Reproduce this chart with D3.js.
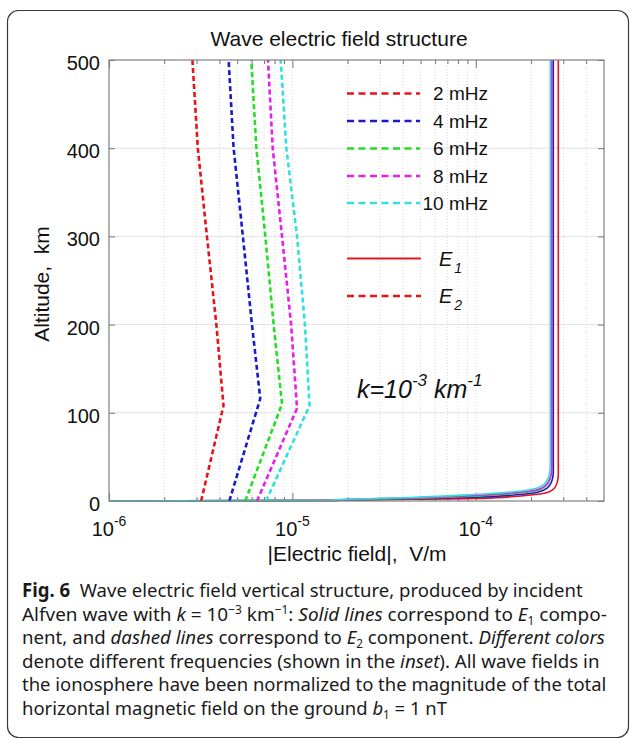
<!DOCTYPE html>
<html><head><meta charset="utf-8">
<script src="https://cdn.jsdelivr.net/npm/d3@7"></script>
<style>
body{margin:0;background:#fff;}
svg text{white-space:pre;}
</style></head>
<body><svg id="c" width="630" height="738"></svg>
<script>
// ---------------- data ----------------
const frequencies = ["2 mHz", "4 mHz", "6 mHz", "8 mHz", "10 mHz"];
const colors = ["#e3141c", "#1a1acb", "#26dd26", "#e420e4", "#30e0e0"];
const yTickValues = [0, 100, 200, 300, 400, 500];
const xTickExponents = [-6, -5, -4];
const componentLabels = ["1", "2"];

// E2 (dashed) : [ |E| (V/m), altitude (km) ]
const e2_2mHz  = [[3.18e-6,0],[4.21e-6,108],[3.85e-6,200],[3.42e-6,300],[3.05e-6,400],[2.85e-6,500]];
const e2_4mHz  = [[4.53e-6,0],[6.68e-6,116],[6.02e-6,200],[5.37e-6,300],[4.78e-6,400],[4.49e-6,500]];
const e2_6mHz  = [[5.53e-6,0],[8.78e-6,110],[7.90e-6,200],[7.12e-6,300],[6.36e-6,400],[5.97e-6,500]];
const e2_8mHz  = [[6.41e-6,0],[1.06e-5,105],[9.84e-6,200],[8.78e-6,300],[7.81e-6,400],[7.36e-6,500]];
const e2_10mHz = [[7.18e-6,0],[1.24e-5,108],[1.17e-5,200],[1.06e-5,300],[9.27e-6,400],[8.63e-6,500]];

// E1 (solid)
const e1_2mHz  = [[1e-6,0],[1.6e-5,0.5],[2.0e-5,1.0],[4.6e-5,1.9],[1.06e-4,3.0],[1.76e-4,5.7],[2.36e-4,8.7],[2.62e-4,12.5],[2.77e-4,20],[2.817e-4,30],[2.817e-4,500]];
const e1_4mHz  = [[1e-6,0],[1.6e-5,0.6],[2.0e-5,1.3],[4.6e-5,2.5],[1.00e-4,4.3],[1.66e-4,7.0],[2.22e-4,10.5],[2.46e-4,15],[2.60e-4,23],[2.645e-4,33],[2.645e-4,500]];
const e1_6mHz  = [[1e-6,0],[1.6e-5,0.7],[2.0e-5,1.6],[4.5e-5,3.0],[9.8e-5,5.3],[1.62e-4,8.5],[2.17e-4,12],[2.40e-4,17],[2.54e-4,25],[2.585e-4,35],[2.585e-4,500]];
const e1_8mHz  = [[1e-6,0],[1.6e-5,0.8],[2.0e-5,1.8],[4.5e-5,3.5],[9.8e-5,6.2],[1.63e-4,9.3],[2.18e-4,13],[2.41e-4,18],[2.55e-4,27],[2.60e-4,37],[2.60e-4,500]];
const e1_10mHz = [[1e-6,0],[1.6e-5,0.9],[2.0e-5,2.0],[4.4e-5,4.0],[9.6e-5,7.3],[1.60e-4,10.5],[2.14e-4,14.5],[2.37e-4,19.5],[2.50e-4,28],[2.547e-4,38],[2.547e-4,500]];

const e1Series = [e1_2mHz, e1_4mHz, e1_6mHz, e1_8mHz, e1_10mHz];
const e2Series = [e2_2mHz, e2_4mHz, e2_6mHz, e2_8mHz, e2_10mHz];

// ---------------- drawing ----------------
const svg = d3.select("#c");
const FONT = "'Liberation Sans', Arial, sans-serif";
const CAPFONT = "'Noto Sans', 'Open Sans', sans-serif";

svg.append("rect").attr("x", 7.5).attr("y", 10.5).attr("width", 621).attr("height", 727)
  .attr("rx", 11).attr("fill", "none").attr("stroke", "#3a3a3a").attr("stroke-width", 1.2);

const L = 109, R = 604, T = 60, B = 501;
const x = d3.scaleLog().domain([1e-6, 5e-4]).range([L, R]);
const y = d3.scaleLinear().domain([0, 500]).range([B, T]);

const minorTicks = [];
xTickExponents.forEach(e => { for (let m = 2; m <= 9; m++) { const v = m * Math.pow(10, e); if (v < 5e-4) minorTicks.push(v); } });
const majorTicks = xTickExponents.map(e => Math.pow(10, e));

// grid
const grid = svg.append("g");
grid.selectAll("line.h").data(yTickValues.filter(v => v > 0 && v < 500)).join("line")
  .attr("x1", L).attr("x2", R).attr("y1", d => y(d)).attr("y2", d => y(d))
  .attr("stroke", "#e2e2e2").attr("stroke-width", 1);
grid.selectAll("line.v").data(minorTicks.concat(majorTicks.slice(1))).join("line")
  .attr("x1", d => x(d)).attr("x2", d => x(d)).attr("y1", T).attr("y2", B)
  .attr("stroke", "#cfcfcf").attr("stroke-width", 0.8).attr("stroke-dasharray", "1,2");

// axes ticks (inside)
function styleAxis(g) { g.select(".domain").remove(); g.selectAll(".tick line").attr("stroke", "#777"); }
svg.append("g").attr("transform", `translate(0,${B})`).call(d3.axisBottom(x).tickValues(minorTicks).tickSize(-4).tickFormat("")).call(styleAxis);
svg.append("g").attr("transform", `translate(0,${B})`).call(d3.axisBottom(x).tickValues(majorTicks).tickSize(-8).tickFormat("")).call(styleAxis);
svg.append("g").attr("transform", `translate(0,${T})`).call(d3.axisTop(x).tickValues(minorTicks).tickSize(-4).tickFormat("")).call(styleAxis);
svg.append("g").attr("transform", `translate(0,${T})`).call(d3.axisTop(x).tickValues(majorTicks).tickSize(-8).tickFormat("")).call(styleAxis);
svg.append("g").attr("transform", `translate(${L},0)`).call(d3.axisLeft(y).tickValues(yTickValues).tickSize(-6).tickFormat("")).call(styleAxis);
svg.append("g").attr("transform", `translate(${R},0)`).call(d3.axisRight(y).tickValues(yTickValues).tickSize(-6).tickFormat("")).call(styleAxis);

// curves
const line = d3.line().x(d => x(d[0])).y(d => y(d[1]));
const lineSmooth = d3.line().x(d => x(d[0])).y(d => y(d[1])).curve(d3.curveMonotoneY);
const curves = svg.append("g");
frequencies.forEach((f, i) => {
  curves.append("path").datum(e1Series[i]).attr("d", lineSmooth)
    .attr("fill", "none").attr("stroke", colors[i]).attr("stroke-width", 1.6);
});
frequencies.forEach((f, i) => {
  curves.append("path").datum(e2Series[i]).attr("d", line)
    .attr("fill", "none").attr("stroke", colors[i]).attr("stroke-width", 2.6)
    .attr("stroke-dasharray", "5,3");
});

// frame
svg.append("rect").attr("x", L).attr("y", T).attr("width", R - L).attr("height", B - T)
  .attr("fill", "none").attr("stroke", "#808080").attr("stroke-width", 1.2);

// tick labels
svg.append("g").selectAll("text").data(yTickValues).join("text")
  .attr("x", 100).attr("y", d => y(d)).attr("dy", "0.5em")
  .attr("text-anchor", "end").attr("font-family", FONT).attr("font-size", 20).attr("fill", "#111")
  .text(d => d);
const xl = svg.append("g").selectAll("text").data(xTickExponents).join("text")
  .attr("x", d => x(Math.pow(10, d))).attr("y", 536)
  .attr("text-anchor", "middle").attr("font-family", FONT).attr("font-size", 20).attr("fill", "#111");
xl.append("tspan").text("10");
xl.append("tspan").attr("font-size", 14).attr("dy", -10).text(d => "-" + Math.abs(d));

// titles
svg.append("text").attr("x", 339).attr("y", 46).attr("text-anchor", "middle")
  .attr("font-family", FONT).attr("font-size", 21).attr("fill", "#111").text("Wave electric field structure");
svg.append("text").attr("x", 357).attr("y", 561).attr("text-anchor", "middle")
  .attr("font-family", FONT).attr("font-size", 21).attr("fill", "#111").text("|Electric field|,  V/m");
svg.append("text").attr("transform", "translate(49,284) rotate(-90)").attr("text-anchor", "middle")
  .attr("font-family", FONT).attr("font-size", 21).attr("fill", "#111").text("Altitude,  km");

// legend
const legY = [93.5, 121, 148.5, 176, 203];
const leg = svg.append("g");
frequencies.forEach((f, i) => {
  leg.append("line").attr("x1", 347).attr("x2", 420).attr("y1", legY[i]).attr("y2", legY[i])
    .attr("stroke", colors[i]).attr("stroke-width", 2.6).attr("stroke-dasharray", "7,4.5");
  leg.append("text").attr("x", 488).attr("y", legY[i]).attr("dy", "0.36em").attr("text-anchor", "end")
    .attr("font-family", FONT).attr("font-size", 19).attr("fill", "#111").text(f);
});
const compY = [258.5, 296];
componentLabels.forEach((c, i) => {
  const ln = leg.append("line").attr("x1", 347).attr("x2", 421).attr("y1", compY[i]).attr("y2", compY[i])
    .attr("stroke", colors[0]).attr("stroke-width", i === 0 ? 2 : 2.6);
  if (i === 1) ln.attr("stroke-dasharray", "7,4.5");
  const t = leg.append("text").attr("x", 439).attr("y", compY[i] + 7)
    .attr("font-family", FONT).attr("font-size", 20).attr("font-style", "italic").attr("fill", "#111");
  t.append("tspan").text("E");
  t.append("tspan").attr("font-size", 14).attr("dy", 7).attr("dx", 2).text(c);
});

// annotation
const ann = svg.append("text").attr("x", 357).attr("y", 398)
  .attr("font-family", FONT).attr("font-size", 25).attr("font-style", "italic").attr("fill", "#111");
ann.append("tspan").text("k=10");
ann.append("tspan").attr("font-size", 17).attr("dy", -12).text("-3");
ann.append("tspan").attr("dy", 12).text(" km");
ann.append("tspan").attr("font-size", 17).attr("dy", -12).text("-1");

// caption
const captionLines = [
  [{t: "Fig. 6", b: 1}, {t: "  Wave electric field vertical structure, produced by incident"}],
  [{t: "Alfven wave with "}, {t: "k", i: 1}, {t: " = 10"}, {t: "−3", s: -1}, {t: " km"}, {t: "−1", s: -1}, {t: ": "}, {t: "Solid lines", i: 1}, {t: " correspond to "}, {t: "E", i: 1}, {t: "1", s: 1}, {t: " compo-"}],
  [{t: "nent, and "}, {t: "dashed lines", i: 1}, {t: " correspond to "}, {t: "E", i: 1}, {t: "2", s: 1}, {t: " component. "}, {t: "Different colors", i: 1}],
  [{t: "denote different frequencies (shown in the "}, {t: "inset", i: 1}, {t: "). All wave fields in"}],
  [{t: "the ionosphere have been normalized to the magnitude of the total"}],
  [{t: "horizontal magnetic field on the ground "}, {t: "b", i: 1}, {t: "1", s: 1}, {t: " = 1 nT"}]
];
// target widths for justified lines; 0 = natural width at common compression
const captionWidths = [561, 585, 583, 578, 585, 0];
const capTexts = captionLines.map((parts, li) => {
  const g = svg.append("g").attr("transform", `translate(22,${597 + li * 23.6})`);
  const t = g.append("text").attr("font-family", CAPFONT).attr("font-size", 19).attr("fill", "#1a1a1a");
  let off = 0;
  parts.forEach(p => {
    const ts = t.append("tspan").text(p.t);
    if (p.b) ts.attr("font-weight", "bold");
    if (p.i) ts.attr("font-style", "italic");
    let target = 0;
    if (p.s === -1) { target = -7; ts.attr("font-size", 12); }
    if (p.s === 1) { target = 4; ts.attr("font-size", 12); }
    if (target !== off) { ts.attr("dy", target - off); off = target; }
  });
  return t;
});
const base = captionWidths[4] / capTexts[4].node().getComputedTextLength();
capTexts.forEach((t, li) => {
  const w = t.node().getComputedTextLength();
  const s = captionWidths[li] ? captionWidths[li] / w : base;
  t.attr("transform", `scale(${s},1)`);
});
</script>
</body></html>
